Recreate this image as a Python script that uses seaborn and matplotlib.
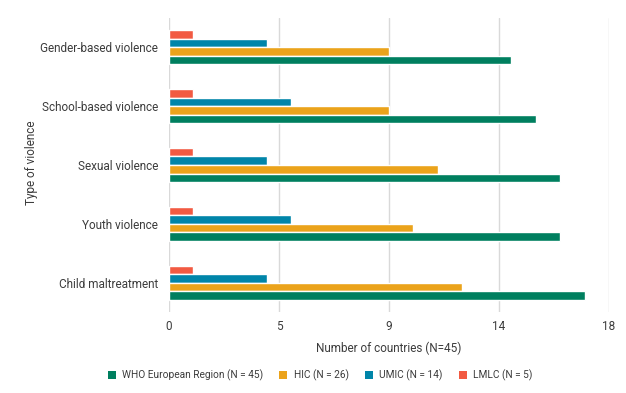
import numpy as np
import pandas as pd
import seaborn as sns
import matplotlib.pyplot as plt
from matplotlib.patches import Patch

sns.set_style("white")
plt.rcParams['font.family'] = ['Roboto', 'DejaVu Sans']

# ---- data ----
violence_types = ["Gender-based violence", "School-based violence", "Sexual violence",
                  "Youth violence", "Child maltreatment"]
who_region = [14, 15, 16, 16, 17]
hic = [9, 9, 11, 10, 12]
umic = [4, 5, 4, 5, 4]
lmlc = [1, 1, 1, 1, 1]
groups = ["WHO European Region (N = 45)", "HIC (N = 26)", "UMIC (N = 14)", "LMLC (N = 5)"]
colors = ["#007f5f", "#eba31b", "#0085a9", "#f25a42"]
xtick_pos = [0, 4.5, 9, 13.5, 18]
xtick_labels = ["0", "5", "9", "14", "18"]

df = pd.DataFrame({
    "type": violence_types * 4,
    "group": np.repeat(groups, len(violence_types)),
    "count": who_region + hic + umic + lmlc,
})
pal = dict(zip(groups, colors))

fig = plt.figure(figsize=(6.26, 3.93), dpi=100)
ax = fig.add_axes([169/626, 1 - 312/393, 440/626, 294/393])

# drawn top to bottom: LMLC, UMIC, HIC, WHO
sns.barplot(data=df, y="type", x="count", hue="group", hue_order=groups[::-1],
            order=violence_types, palette=pal, width=0.58, orient="h",
            ax=ax, legend=False, saturation=1)

txt = "#3c3c3c"
ax.set_xlim(0, 18)
ax.set_xticks(xtick_pos)
ax.set_xticklabels(xtick_labels, color=txt, fontsize=8.5)
ax.tick_params(axis="y", labelsize=8.5, labelcolor=txt, length=0, pad=8)
ax.tick_params(axis="x", length=0, pad=6)
ax.grid(axis="x", color="#d9d9d9", linewidth=1)
ax.set_axisbelow(True)
for s in ax.spines.values():
    s.set_visible(False)
ax.set_xlabel("Number of countries (N=45)", fontsize=8.5, color=txt, labelpad=6)
ax.set_ylabel("")
fig.text(32/626, 1 - 163/393, "Type of violence", rotation=90, ha="center", va="center",
         fontsize=8.5, color=txt)

handles = [Patch(facecolor=c, edgecolor="none") for c in colors]
fig.legend(handles, groups, loc="center", bbox_to_anchor=(320/626, 1 - 375/393), ncol=4,
           frameon=False, fontsize=7.3, handlelength=0.8, handleheight=0.8,
           columnspacing=1.6, handletextpad=0.6, labelcolor=txt)

fig.savefig("out.png", dpi=100)
